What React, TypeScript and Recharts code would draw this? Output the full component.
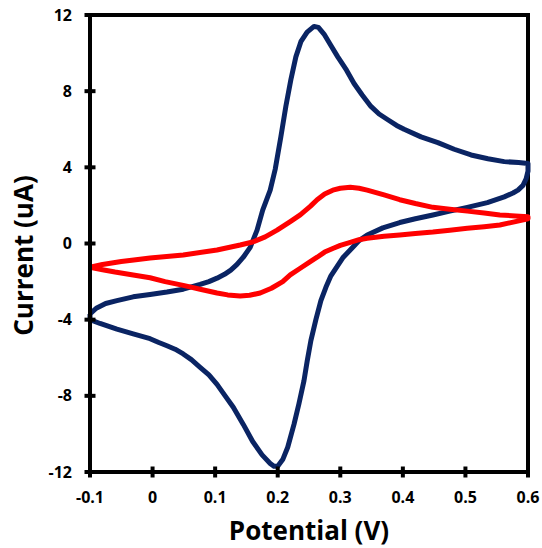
import React from 'react';
import { ComposedChart, Line, XAxis, YAxis, ReferenceLine } from 'recharts';

const potentialTicks = [-0.1, 0, 0.1, 0.2, 0.3, 0.4, 0.5, 0.6];
const currentTicks = [-12, -8, -4, 0, 4, 8, 12];

// Blue (larger) voltammogram: forward scan then reverse scan
const blueX = [
  -0.1, -0.09, -0.075, -0.057, -0.031, -0.004, 0.023, 0.049, 0.076, 0.09, 0.103, 0.115, 0.125, 0.135, 0.145, 0.156,
  0.167, 0.176, 0.188, 0.196, 0.205, 0.213, 0.221, 0.229, 0.237, 0.247, 0.258, 0.265, 0.274, 0.285, 0.296,
  0.31, 0.322, 0.335, 0.349, 0.362, 0.376, 0.39, 0.402, 0.429, 0.456, 0.482, 0.509, 0.536, 0.562, 0.585, 0.6,
  0.6, 0.597, 0.592, 0.584, 0.576, 0.562, 0.535, 0.503, 0.475, 0.448, 0.42, 0.395, 0.368, 0.343, 0.33, 0.32,
  0.304, 0.295, 0.285, 0.277, 0.269, 0.261, 0.253, 0.247, 0.242, 0.234, 0.226, 0.216, 0.208, 0.2, 0.194,
  0.188, 0.175, 0.16, 0.145, 0.129, 0.116, 0.103, 0.09, 0.076, 0.062, 0.049, 0.036, 0.023, 0.01, -0.004,
  -0.031, -0.057, -0.084, -0.1, -0.1,
];
const blueY = [
  -3.7, -3.4, -3.15, -3.0, -2.8, -2.68, -2.55, -2.4, -2.15, -2.0, -1.82, -1.62, -1.4, -1.1, -0.72, -0.2,
  0.7, 1.75, 2.8, 3.9, 5.6, 7.2, 8.6, 9.8, 10.6, 11.1, 11.4, 11.35, 11.0, 10.4, 9.8,
  9.1, 8.4, 7.8, 7.2, 6.8, 6.5, 6.2, 6.0, 5.6, 5.3, 4.95, 4.65, 4.45, 4.3, 4.25, 4.2,
  3.8, 3.4, 3.05, 2.8, 2.65, 2.45, 2.15, 1.9, 1.7, 1.5, 1.3, 1.1, 0.82, 0.45, 0.15, -0.2,
  -0.75, -1.2, -1.7, -2.3, -3.0, -4.0, -5.1, -6.2, -7.2, -8.4, -9.5, -10.7, -11.35, -11.7, -11.7,
  -11.55, -11.1, -10.4, -9.5, -8.6, -8.0, -7.4, -6.9, -6.5, -6.1, -5.8, -5.55, -5.37, -5.2, -5.0,
  -4.75, -4.5, -4.2, -4.0, -3.7,
];

// Red (smaller) voltammogram: forward scan then reverse scan
const redX = [
  -0.1, -0.08, -0.05, -0.03, -0.004, 0.049, 0.103, 0.14, 0.16, 0.18, 0.199, 0.22, 0.236, 0.252, 0.263, 0.275,
  0.288, 0.3, 0.316, 0.33, 0.343, 0.37, 0.395, 0.42, 0.448, 0.475, 0.503, 0.53, 0.555, 0.58, 0.6,
  0.6, 0.58, 0.555, 0.53, 0.503, 0.475, 0.448, 0.42, 0.395, 0.37, 0.343, 0.33, 0.316, 0.3, 0.288, 0.275,
  0.263, 0.252, 0.236, 0.22, 0.208, 0.19, 0.172, 0.155, 0.14, 0.12, 0.103, 0.076, 0.049, 0.02, -0.004,
  -0.031, -0.06, -0.08, -0.1,
];
const redY = [
  -1.25, -1.1, -0.95, -0.87, -0.76, -0.6, -0.34, -0.08, 0.08, 0.35, 0.7, 1.15, 1.5, 1.95, 2.3, 2.6,
  2.8, 2.9, 2.95, 2.9, 2.8, 2.55, 2.3, 2.1, 1.9, 1.8, 1.7, 1.6, 1.5, 1.45, 1.4,
  1.3, 1.15, 0.97, 0.88, 0.8, 0.7, 0.6, 0.52, 0.45, 0.38, 0.28, 0.2, 0.06, -0.1, -0.26, -0.45,
  -0.72, -0.95, -1.3, -1.65, -2.0, -2.35, -2.6, -2.72, -2.76, -2.7, -2.6, -2.4, -2.2, -2.0, -1.8,
  -1.65, -1.5, -1.38, -1.25,
];

const zip = (xs: number[], ys: number[]) => xs.map((x, i) => ({ x, y: ys[i] }));
const blueData = zip(blueX, blueY);
const redData = zip(redX, redY);

const FONT = '"Open Sans", sans-serif';

const XTick = (props: any) => {
  const { x, y, payload } = props;
  return (
    <g>
      <line x1={x} x2={x} y1={y - 5.5} y2={y + 5.5} stroke="#000" strokeWidth={4} />
      <text x={x} y={y + 25} dy="0.35em" textAnchor="middle" fontFamily={FONT} fontWeight={700} fontSize={16} fill="#000">
        {String(payload.value)}
      </text>
    </g>
  );
};

const YTick = (props: any) => {
  const { x, y, payload } = props;
  return (
    <g>
      <line x1={x - 5.5} x2={x + 5.5} y1={y} y2={y} stroke="#000" strokeWidth={4} />
      <text x={x - 18} y={y} dy="0.35em" textAnchor="end" fontFamily={FONT} fontWeight={700} fontSize={16} fill="#000">
        {String(payload.value)}
      </text>
    </g>
  );
};

const XTitle = (props: any) => {
  const vb = props.viewBox || {};
  const cx = vb.x + vb.width / 2;
  return (
    <text x={cx} y={vb.y + 68} textAnchor="middle" fontFamily={FONT} fontWeight={700} fontSize={26} fill="#000">
      Potential (V)
    </text>
  );
};

const YTitle = (props: any) => {
  const vb = props.viewBox || {};
  const cx = 33;
  const cy = vb.y + vb.height / 2 + 12;
  return (
    <text x={cx} y={cy} transform={`rotate(-90, ${cx}, ${cy})`} textAnchor="middle" fontFamily={FONT} fontWeight={700} fontSize={26} fill="#000">
      Current (uA)
    </text>
  );
};

export default function App() {
  return (
    <div style={{ position: 'absolute', left: 0, top: 0, width: 542, height: 548, background: '#fff' }}>
      <ComposedChart width={542} height={548} margin={{ top: 15, right: 14, bottom: 0, left: 0 }}>
        <XAxis
          type="number"
          dataKey="x"
          domain={[-0.1, 0.6]}
          ticks={potentialTicks}
          interval={0}
          height={76}
          tickSize={0}
          tickMargin={0}
          tickLine={false}
          axisLine={{ stroke: '#000', strokeWidth: 4 }}
          tick={<XTick />}
          label={{ content: <XTitle /> }}
        />
        <YAxis
          type="number"
          dataKey="y"
          domain={[-12, 12]}
          ticks={currentTicks}
          interval={0}
          width={90}
          tickSize={0}
          tickMargin={0}
          tickLine={false}
          axisLine={{ stroke: '#000', strokeWidth: 4 }}
          tick={<YTick />}
          label={{ content: <YTitle /> }}
        />
        <ReferenceLine y={12} stroke="#000" strokeWidth={4} strokeLinecap="square" />
        <ReferenceLine x={0.6} stroke="#000" strokeWidth={4} strokeLinecap="square" />
        <Line
          data={blueData}
          dataKey="y"
          type="linear"
          stroke="#0A2463"
          strokeWidth={5}
          strokeLinejoin="round"
          dot={false}
          activeDot={false}
          isAnimationActive={false}
        />
        <Line
          data={redData}
          dataKey="y"
          type="linear"
          stroke="#FF0000"
          strokeWidth={5}
          strokeLinejoin="round"
          dot={false}
          activeDot={false}
          isAnimationActive={false}
        />
      </ComposedChart>
    </div>
  );
}
